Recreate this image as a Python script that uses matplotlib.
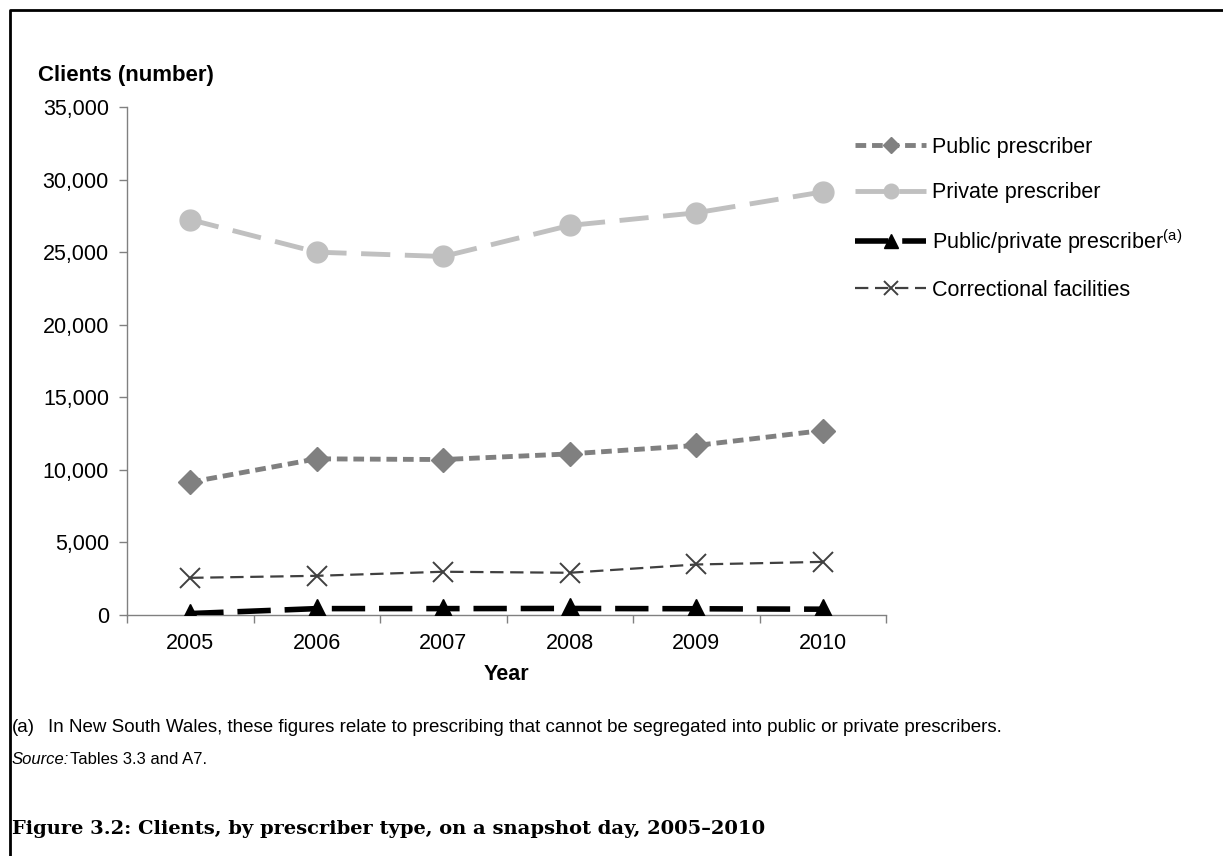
import matplotlib
matplotlib.use('Agg')
import matplotlib.pyplot as plt
from matplotlib.lines import Line2D
from matplotlib.ticker import FuncFormatter

plt.rcParams['font.family'] = ['Liberation Sans', 'DejaVu Sans']
plt.rcParams['mathtext.fontset'] = 'custom'
plt.rcParams['mathtext.rm'] = 'Liberation Sans'

years = [2005, 2006, 2007, 2008, 2009, 2010]
public = [9150, 10760, 10710, 11100, 11680, 12710]
private = [27240, 25000, 24700, 26840, 27710, 29150]
public_private = [100, 440, 440, 450, 430, 400]
correctional = [2560, 2700, 2980, 2910, 3480, 3660]

W, H = 1223, 856
fig = plt.figure(figsize=(W / 100, H / 100), dpi=100)
ax = fig.add_axes([127 / W, 1 - 615 / H, (886 - 127) / W, (615 - 107) / H])

x = list(range(len(years)))
ax.plot(x, public, color='#808080', lw=3.5, dashes=(2.2, 1.2), marker='D',
        ms=12, label='Public prescriber', zorder=3)
ax.plot(x, private, color='#c0c0c0', lw=3.5, dashes=(6, 3), marker='o',
        ms=15, label='Private prescriber', zorder=3)
ax.plot(x, public_private, color='black', lw=4, dashes=(6, 2.5), marker='^',
        ms=15, label=r'Public/private prescriber$^{\rm (a)}$', zorder=4)
ax.plot(x, correctional, color='#404040', lw=1.6, dashes=(6, 3), marker='x',
        ms=15, mew=1.4, label='Correctional facilities', zorder=3)

ax.set_xlim(-0.5, len(years) - 0.5)
ax.set_ylim(0, 35000)
ax.set_yticks(range(0, 35001, 5000))
ax.yaxis.set_major_formatter(FuncFormatter(lambda v, p: f'{int(v):,}'))
ax.set_xticks(x)
ax.set_xticklabels([str(y) for y in years])
ax.set_xticks([i - 0.5 for i in range(len(years) + 1)], minor=True)
ax.tick_params(axis='x', which='major', length=0, pad=13, labelsize=15.5)
ax.tick_params(axis='x', which='minor', length=6, width=1, color='#808080')
ax.tick_params(axis='y', length=6, width=1, color='#808080', pad=7,
               labelsize=15.5)
for side in ['top', 'right']:
    ax.spines[side].set_visible(False)
for side in ['left', 'bottom']:
    ax.spines[side].set_color('#808080')
    ax.spines[side].set_linewidth(1)

ax.set_xlabel('Year', fontsize=15.5, fontweight='bold', labelpad=7)
fig.text(38 / W, 1 - 75 / H, 'Clients (number)', fontsize=16,
         fontweight='bold', va='center', ha='left')

fig.legend(loc='upper left', bbox_to_anchor=(855 / W, 1 - 137 / H),
           frameon=False, fontsize=15.5, handlelength=3.3,
           handletextpad=0.3, labelspacing=1.12, borderpad=0,
           borderaxespad=0, numpoints=1, markerscale=0.7)

fig.text(12 / W, 1 - 728 / H, '(a)', fontsize=13.5, va='center')
fig.text(48 / W, 1 - 728 / H, 'In New South Wales, these figures relate to '
         'prescribing that cannot be segregated into public or private prescribers.',
         fontsize=13.5, va='center')
fig.text(12 / W, 1 - 759 / H, 'Source:', fontsize=12, style='italic',
         va='center')
fig.text(70 / W, 1 - 759 / H, 'Tables 3.3 and A7.', fontsize=12, va='center')
fig.text(12 / W, 1 - 829 / H, 'Figure 3.2: Clients, by prescriber type, on a '
         'snapshot day, 2005\u20132010', fontsize=14, fontweight='bold',
         family='DejaVu Serif', va='center')

# page border on the left and top
fig.add_artist(Line2D([10 / W, 10 / W, 1], [0, 1 - 10 / H, 1 - 10 / H],
                      transform=fig.transFigure, color='black', lw=2))

fig.savefig('out.png', dpi=100)
